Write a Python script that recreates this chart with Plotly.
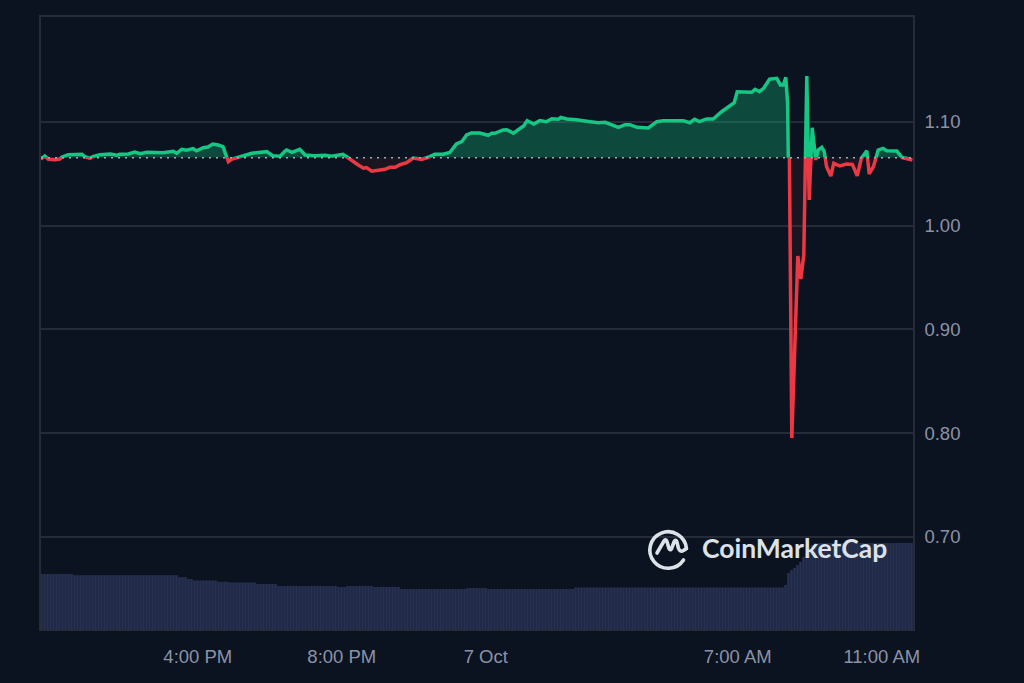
import base64
import pandas as pd
import plotly.graph_objects as go

# Data

start = pd.Timestamp('2024-10-06 11:37')

base_price = 1.0655

price_minutes = [0, 3, 8, 14, 25, 33, 36, 47, 70, 75, 83, 88, 100, 117, 128, 133, 147, 158, 167, 178,
                 205, 222, 228, 236, 244, 255, 261, 272, 280, 288, 297, 305, 309, 314, 319, 330, 338, 353, 361, 378,
                 388, 400, 408, 411, 420, 433, 442, 458, 475, 486, 505, 514, 528, 539, 544, 553, 575, 583, 592, 600,
                 611, 622, 636, 647, 658, 672, 683, 694, 703, 711, 719, 733, 747, 753, 758, 772, 778, 789, 806, 812,
                 823, 833, 844, 853, 864, 868, 878, 894, 917, 931, 942, 950, 964, 975, 983, 995, 1014, 1028, 1039, 1072,
                 1083, 1091, 1099, 1111, 1122, 1136, 1150, 1157, 1162, 1186, 1192, 1199, 1206, 1216, 1228, 1234, 1239, 1243, 1246, 1249,
                 1253, 1263, 1268, 1273, 1278, 1282, 1287, 1293, 1297, 1303, 1307, 1311, 1318, 1323, 1333, 1344, 1354, 1362, 1369, 1378,
                 1382, 1389, 1397, 1405, 1411, 1428, 1437, 1444, 1454]

price_values = [1.0655, 1.0650, 1.0672, 1.0640, 1.0637, 1.0643, 1.0660, 1.0685, 1.0689, 1.0665, 1.0650, 1.0665, 1.0685, 1.0692, 1.0679, 1.0689, 1.0692, 1.0711, 1.0694, 1.0708,
                1.0704, 1.0718, 1.0698, 1.0737, 1.0727, 1.0743, 1.0723, 1.0752, 1.0759, 1.0788, 1.0778, 1.0762, 1.0698, 1.0617, 1.0640, 1.0660, 1.0679, 1.0698, 1.0704, 1.0714,
                1.0675, 1.0669, 1.0718, 1.0730, 1.0708, 1.0737, 1.0682, 1.0675, 1.0679, 1.0669, 1.0689, 1.0650, 1.0595, 1.0554, 1.0560, 1.0525, 1.0544, 1.0563, 1.0563, 1.0588,
                1.0608, 1.0653, 1.0640, 1.0660, 1.0689, 1.0689, 1.0706, 1.0788, 1.0810, 1.0875, 1.0894, 1.0894, 1.0872, 1.0891, 1.0891, 1.0923, 1.0926, 1.0891, 1.0961, 1.1013,
                1.0981, 1.1013, 1.1003, 1.1032, 1.1026, 1.1045, 1.1029, 1.1022, 1.1003, 1.0993, 1.0997, 1.0981, 1.0949, 1.0974, 1.0974, 1.0949, 1.0942, 1.1003, 1.1013, 1.1013,
                1.0993, 1.1026, 1.1003, 1.1029, 1.1029, 1.1099, 1.1164, 1.1186, 1.1292, 1.1286, 1.1315, 1.1292, 1.1325, 1.1412, 1.1421, 1.1357, 1.1357, 1.1431, 1.1183, 1.0634,
                0.7953, 0.9708, 0.9486, 0.9718, 1.1443, 1.0248, 1.0945, 1.0634, 1.0730, 1.0756, 1.0714, 1.0569, 1.0479, 1.0602, 1.0576, 1.0595, 1.0592, 1.0482, 1.0650, 1.0723,
                1.0499, 1.0569, 1.0730, 1.0746, 1.0723, 1.0720, 1.0656, 1.0650, 1.0634]

# volume, one bar every 5 minutes
volume_values = ([5.5] * 11 + [5.38] * 35 + [5.18] * 3 + [5.0] * 2 + [4.85] * 8 + [4.72] * 4 + [4.65] * 9
                 + [4.5] * 7 + [4.3] * 20 + [4.2] * 3 + [4.3] * 9 + [4.2] * 9 + [4.0] * 22 + [4.1] * 7
                 + [4.0] * 29 + [4.15] * 70
                 + [4.4, 5.6, 5.9, 6.1, 6.4, 6.7, 7.2, 7.6, 8.0, 8.4, 8.6] + [8.6] * 32)

price_ticks = [0.70, 0.80, 0.90, 1.00, 1.10]
time_ticks = ['2024-10-06 16:00', '2024-10-06 20:00', '2024-10-07 00:00', '2024-10-07 07:00', '2024-10-07 11:00']
time_labels = ['4:00 PM', '8:00 PM', '7 Oct', '7:00 AM', '11:00 AM']

# Styles

BG = '#0b1320'
GRID = '#252b39'
TEXT = '#8b92a6'
GREEN = '#16c784'
RED = '#ea3943'
LOGO = '#dde1e8'
FONT = 'Liberation Sans, Arial, sans-serif'

plot_left, plot_right, plot_top, plot_bottom = 41, 913, 17, 629
plot_w = plot_right - plot_left
plot_h = plot_bottom - plot_top

y_min, y_max = 0.6113, 1.2012
split = (base_price - y_min) / (y_max - y_min)

times = start + pd.to_timedelta(price_minutes, unit='min')
baseline = [base_price] * len(price_values)
bar_times = start + pd.to_timedelta([2.5 + 5 * i for i in range(len(volume_values))], unit='min')

fig = go.Figure()

# Volume bars
fig.add_trace(go.Bar(x=bar_times, y=volume_values, yaxis='y4', width=4.3 * 60 * 1000,
                     marker=dict(color='#273153', line=dict(width=0))))

# The line is drawn twice, each copy cut off at the base price by its own axis
for axis, colour, fill in [('y2', GREEN, 'rgba(22,199,132,0.30)'), ('y3', RED, 'rgba(234,57,67,0.07)')]:
    fig.add_trace(go.Scatter(x=times, y=baseline, yaxis=axis, mode='lines', line=dict(width=0),
                             hoverinfo='skip'))
    fig.add_trace(go.Scatter(x=times, y=price_values, yaxis=axis, mode='lines', fill='tonexty',
                             fillcolor=fill, line=dict(color=colour, width=3.5)))

# Dotted open price
fig.add_shape(type='line', xref='x domain', yref='y', x0=0, x1=1, y0=base_price, y1=base_price,
              line=dict(color='#a4a9b3', width=1.5, dash='2px,5px'))

fig.update_layout(
    width=1024, height=683,
    margin=dict(l=plot_left, r=1024 - plot_right, t=plot_top, b=683 - plot_bottom),
    paper_bgcolor=BG, plot_bgcolor='rgba(0,0,0,0)',
    showlegend=False,
    font=dict(family=FONT, size=18.5, color=TEXT),
    xaxis=dict(type='date', range=[start + pd.Timedelta(minutes=1.67), start + pd.Timedelta(minutes=1455)],
               tickvals=time_ticks, ticktext=time_labels, tickangle=0,
               showgrid=False, zeroline=False, showline=True, linecolor=GRID, linewidth=1.5, mirror=True,
               ticks='outside', ticklen=10, tickcolor='rgba(0,0,0,0)', tickfont=dict(size=18.5, color=TEXT)),
    yaxis=dict(range=[y_min, y_max], side='right', tickvals=price_ticks, tickformat='.2f',
               showgrid=True, gridcolor=GRID, gridwidth=1.5, zeroline=False,
               showline=True, linecolor=GRID, linewidth=1.5, mirror=True,
               ticks='outside', ticklen=6, tickcolor='rgba(0,0,0,0)', tickfont=dict(size=18.5, color=TEXT)),
    yaxis2=dict(domain=[split, 1], range=[base_price, y_max], visible=False),
    yaxis3=dict(domain=[0, split], range=[y_min, base_price], visible=False),
    yaxis4=dict(domain=[0, 1], range=[0, 61.2], overlaying='y', visible=False),
)

# CoinMarketCap watermark
logo_svg = f'''<svg xmlns="http://www.w3.org/2000/svg" viewBox="0 0 60 60" width="60" height="60">
<g fill="none" stroke="{LOGO}" stroke-width="3.6" stroke-linecap="round" stroke-linejoin="round">
<path d="M43.5 45 A18.3 18.3 0 1 1 46.4 33.5"/>
<path d="M17 38 L24 26 Q25.5 23.5 26.8 26 L29 33.5 Q30.2 36 31.6 33.5 L34.2 26.5 Q35.5 24 36.8 26.5 L38.4 33 Q39.8 37.5 43.5 35.5 L46.4 33.5"/>
</g></svg>'''
logo_uri = 'data:image/svg+xml;base64,' + base64.b64encode(logo_svg.encode()).decode()

fig.add_layout_image(source=logo_uri, xref='paper', yref='paper', layer='above',
                     x=(640 - plot_left) / plot_w, y=(plot_bottom - 515) / plot_h,
                     sizex=60 / plot_w, sizey=60 / plot_h, xanchor='left', yanchor='top', sizing='stretch')

fig.add_annotation(text='CoinMarketCap', xref='paper', yref='paper', showarrow=False,
                   x=(700 - plot_left) / plot_w, y=(plot_bottom - 548) / plot_h,
                   xanchor='left', yanchor='middle',
                   font=dict(family='Lato, Noto Sans, sans-serif', size=26.5, color=LOGO, weight=700))

fig.write_html('out.html', config=dict(displayModeBar=False),
               post_script="document.body.style.margin='0';")
